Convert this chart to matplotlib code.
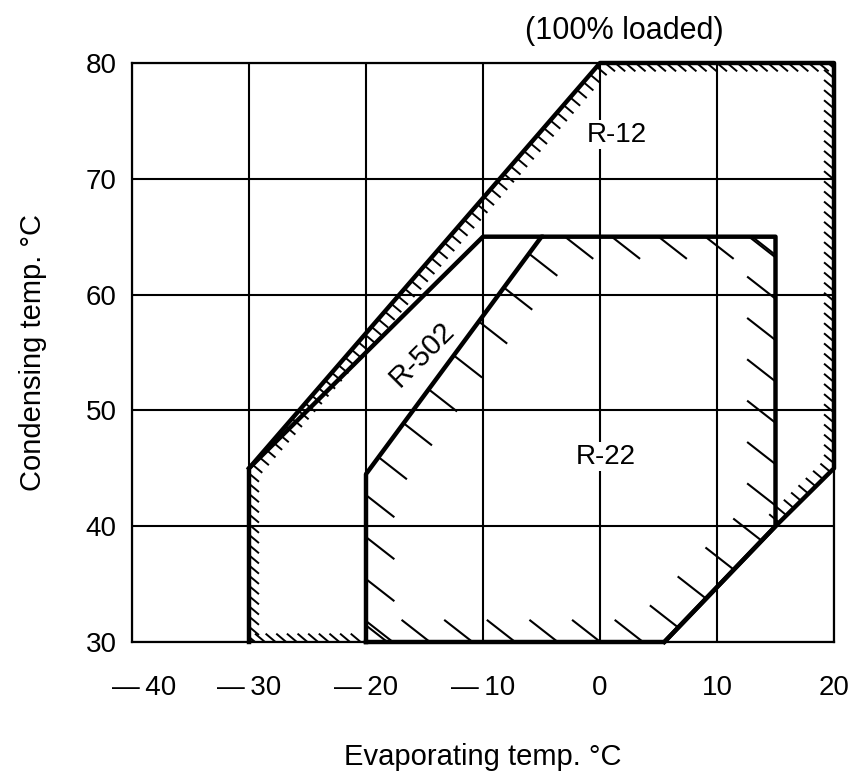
import matplotlib.pyplot as plt
import numpy as np
from matplotlib.collections import LineCollection
from matplotlib.patches import Polygon
from matplotlib.transforms import ScaledTranslation

plt.rcParams['font.family'] = ['Liberation Sans', 'DejaVu Sans']

# operating envelopes: (evaporating temp, condensing temp) corners
r12_x = [-30, -30, 0, 20, 20, 15, 5.5, -20, -30]
r12_y = [30, 45, 80, 80, 45, 40, 30, 30, 30]
r12_hatched = [0, 1, 2, 3, 4, 7]  # edge i runs from point i to i+1

r22_x = [-20, -20, -5, 15, 15, 5.5, -20]
r22_y = [30, 44.5, 65, 65, 40, 30, 30]
r22_hatched = [0, 1, 2, 3, 4, 5]

r502_x = [-30, -10, -5]
r502_y = [45, 65, 65]

x_ticks = [-40, -30, -20, -10, 0, 10, 20]
x_labels = ['\u2014\u200940', '\u2014\u200930', '\u2014\u200920', '\u2014\u200910', '0', '10', '20']
y_ticks = [30, 40, 50, 60, 70, 80]

fig = plt.figure(figsize=(8.55, 7.76), dpi=100)
ax = fig.add_axes([132 / 855, 1 - 642 / 776, 702 / 855, 579 / 776])
ax.set_xlim(-40, 20)
ax.set_ylim(30, 80)


def hatch_ticks(xs, ys, edges, spacing, length, angle):
    # short strokes on the inner side of each edge, laid out in pixels
    pts = ax.transData.transform(np.column_stack([xs, ys]))
    d = np.array([np.cos(np.radians(angle)), np.sin(np.radians(angle))])
    inv = ax.transData.inverted()
    segs = []
    for i in edges:
        p0, p1 = pts[i], pts[i + 1]
        t = p1 - p0
        L = np.hypot(*t)
        n_in = np.array([t[1], -t[0]]) / L
        dd = d if d @ n_in > 0 else -d
        k = max(int(L // spacing), 1)
        for s in (np.arange(k) + 0.5) / k:
            a = p0 + s * t
            segs.append(inv.transform(np.array([a, a + length * dd])))
    return segs


# invisible outlines, used only to keep the hatch strokes inside each envelope
r12_clip = Polygon(np.column_stack([r12_x, r12_y]), closed=True, fill=False, edgecolor='none')
r22_clip = Polygon(np.column_stack([r22_x, r22_y]), closed=True, fill=False, edgecolor='none')
ax.add_patch(r12_clip)
ax.add_patch(r22_clip)

h12 = LineCollection(hatch_ticks(r12_x, r12_y, r12_hatched, 10, 13, -40),
                     colors='black', linewidths=1.4, zorder=3)
h22 = LineCollection(hatch_ticks(r22_x, r22_y, r22_hatched, 40, 36, -38),
                     colors='black', linewidths=1.5, zorder=3)
ax.add_collection(h12)
ax.add_collection(h22)
h12.set_clip_path(r12_clip)
h22.set_clip_path(r22_clip)

ax.plot(r12_x[:7], r12_y[:7], color='black', lw=3.2, clip_on=False, zorder=4)
ax.plot(r22_x, r22_y, color='black', lw=3.2, clip_on=False, zorder=4)
ax.plot(r502_x, r502_y, color='black', lw=3.2, clip_on=False, zorder=4)

box = dict(facecolor='white', edgecolor='none', pad=1)
ax.text(1.4, 73.8, 'R-12', fontsize=20, ha='center', va='center', bbox=box, zorder=5)
ax.text(0.5, 46.0, 'R-22', fontsize=20, ha='center', va='center', bbox=box, zorder=5)
ax.text(-15.2, 54.8, 'R-502', fontsize=21, ha='center', va='center', rotation=45, zorder=5)
ax.text(2.05, 82.8, '(100% loaded)', fontsize=22, ha='center', va='center', clip_on=False)

ax.set_xticks(x_ticks)
ax.set_xticklabels(x_labels)
ax.set_yticks(y_ticks)
ax.tick_params(axis='both', length=0, labelsize=20)
ax.tick_params(axis='x', pad=24)
ax.tick_params(axis='y', pad=11)
# first x label sits a little right of its gridline in the original
lab0 = ax.get_xticklabels()[0]
lab0.set_transform(lab0.get_transform() + ScaledTranslation(0.12, 0, fig.dpi_scale_trans))
ax.grid(True, color='black', lw=1.5)
ax.set_axisbelow(True)
for sp in ax.spines.values():
    sp.set_linewidth(1.6)

ax.set_xlabel('Evaporating temp. \u00b0C', fontsize=21, labelpad=30)
ax.set_ylabel('Condensing temp. \u00b0C', fontsize=21, labelpad=28)

fig.savefig('out.png', dpi=100)
